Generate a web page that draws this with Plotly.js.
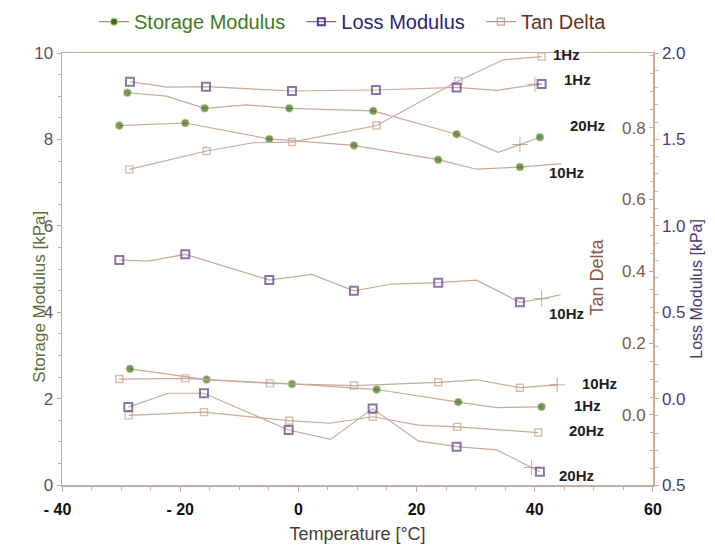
<!DOCTYPE html>
<html>
<head>
<meta charset="utf-8">
<script src="https://cdn.plot.ly/plotly-3.0.1.min.js"></script>
<style>html,body{margin:0;padding:0;background:#fff;}#chart{width:715px;height:556px;}</style>
</head>
<body>
<div id="chart"></div>
<script>
// ---- Data (temperature in °C) ----
// kind: 'o' = measured point, '' = line bend, '+' = cross mark
// Storage modulus [kPa] (left axis)
const storage20Hz_T = [-28.95, -22.3, -15.85, -8.75, -1.54, 12.67, 26.78, 33.82, 37.5, 40.88];
const storage20Hz_V = [9.08, 9.00, 8.72, 8.80, 8.72, 8.66, 8.12, 7.70, 7.88, 8.05];
const storage20Hz_K = ['o', '', 'o', '', 'o', 'o', 'o', '', '+', 'o'];

const storage10Hz_T = [-30.3, -19.14, -4.92, 9.41, 23.67, 30.17, 37.5, 44.55];
const storage10Hz_V = [8.32, 8.38, 8.01, 7.86, 7.53, 7.31, 7.36, 7.44];
const storage10Hz_K = ['o', 'o', 'o', 'o', 'o', '', 'o', ''];

const storage1Hz_T = [-28.5, -15.52, -1.08, 13.25, 27.06, 33.55, 41.17];
const storage1Hz_V = [2.69, 2.44, 2.34, 2.21, 1.92, 1.79, 1.81];
const storage1Hz_K = ['o', 'o', 'o', 'o', 'o', '', 'o'];

// Loss modulus [kPa] (far right axis)
const loss1Hz_T = [-28.5, -22.18, -15.63, -1.08, 13.13, 26.78, 33.55, 40.03, 41.17];
const loss1Hz_V = [1.834, 1.803, 1.805, 1.780, 1.786, 1.801, 1.784, 1.819, 1.821];
const loss1Hz_K = ['o', '', 'o', 'o', 'o', 'o', '', '+', 'o'];

const loss10Hz_T = [-30.3, -25.4, -19.14, -4.92, 2.25, 9.41, 15.79, 23.67, 30.17, 37.5, 41.17, 44.38];
const loss10Hz_V = [0.802, 0.796, 0.835, 0.686, 0.719, 0.624, 0.663, 0.671, 0.685, 0.557, 0.578, 0.601];
const loss10Hz_K = ['o', '', 'o', 'o', '', 'o', '', 'o', '', 'o', '+', ''];

const loss20Hz_T = [-28.78, -22.01, -15.97, -1.64, 5.47, 12.57, 20.29, 26.78, 33.55, 39.47, 40.88];
const loss20Hz_V = [-0.049, 0.031, 0.031, -0.182, -0.236, -0.058, -0.245, -0.278, -0.297, -0.398, -0.423];
const loss20Hz_K = ['o', '', 'o', 'o', '', 'o', '', 'o', '', '+', 'o'];

// Tan delta (inner right axis)
const tan1Hz_T = [-28.61, -15.52, -7.68, -1.08, 13.25, 27.06, 34.67, 41.17];
const tan1Hz_V = [0.684, 0.735, 0.758, 0.760, 0.806, 0.930, 0.989, 0.998];
const tan1Hz_K = ['o', 'o', '', 'o', 'o', 'o', '', 'o'];

const tan10Hz_T = [-30.3, -19.14, -4.81, 9.41, 23.67, 30.17, 37.5, 43.8];
const tan10Hz_V = [0.100, 0.102, 0.088, 0.082, 0.091, 0.098, 0.076, 0.084];
const tan10Hz_K = ['o', 'o', 'o', 'o', 'o', '', 'o', '+'];

const tan20Hz_T = [-28.71, -15.97, -1.54, 5.35, 12.57, 20.29, 26.89, 40.59];
const tan20Hz_V = [-0.001, 0.008, -0.016, -0.023, -0.005, -0.028, -0.033, -0.049];
const tan20Hz_K = ['o', 'o', 'o', '', 'o', '', 'o', 'o'];

// Frequency labels (placed in storage-axis units)
const freqLabels = ['1Hz', '1Hz', '20Hz', '10Hz', '10Hz', '10Hz', '1Hz', '20Hz', '20Hz'];
const freqLabelT = [45.3, 47.2, 49.0, 45.3, 45.3, 51.0, 49.0, 48.8, 47.1];
const freqLabelY = [9.96, 9.38, 8.32, 7.23, 3.98, 2.36, 1.83, 1.27, 0.21];

// Axis ticks
const xTickVals = [-40, -20, 0, 20, 40, 60];
const xTickText = ['- 40&nbsp;&nbsp;', '- 20', '0', '20', '40', '60'];
const tanTickVals = [0, 0.2, 0.4, 0.6, 0.8];
const tanTickText = ['0.0', '0.2', '0.4', '0.6', '0.8'];
const lossTickVals = [-0.5, 0, 0.5, 1.0, 1.5, 2.0];
const lossTickText = ['0.5', '0.0', '0.5', '1.0', '1.5', '2.0'];

// ---- Styles ----
const LINE = '#c9a99a';
const CROSS = '#a88878';
const STY = {
  storage: {sym: 'circle', color: '#3c6b1e', size: 8, lw: 1, lc: 'rgba(190,225,110,0.7)', leg: '#8a9a70', txt: '#3f7a22', name: 'Storage Modulus'},
  loss: {sym: 'square-open', color: '#5a3a8c', size: 8, lw: 2, lc: '#5a3a8c', leg: '#7a6a9a', txt: '#2e2470', name: 'Loss Modulus'},
  tan: {sym: 'square-open', color: '#c9a08c', size: 7, lw: 1.4, lc: '#c9a08c', leg: '#b89888', txt: '#6a3020', name: 'Tan Delta'}
};

function series(T, V, K, type, yax) {
  const s = STY[type];
  return {
    x: T, y: V, yaxis: yax, type: 'scatter', mode: 'lines+markers',
    showlegend: false, hoverinfo: 'x+y',
    line: {color: LINE, width: 1.2},
    marker: {
      symbol: K.map(k => k === '+' ? 'cross-thin-open' : s.sym),
      size: K.map(k => k === 'o' ? s.size : (k === '+' ? 11 : 0)),
      color: K.map(k => k === '+' ? CROSS : s.color),
      line: {width: K.map(k => k === '+' ? 1 : s.lw), color: K.map(k => k === '+' ? CROSS : s.lc)}
    }
  };
}
function legendEntry(type, yax) {
  const s = STY[type];
  return {
    x: [null], y: [null], yaxis: yax, type: 'scatter', mode: 'lines+markers',
    name: '<span style="color:' + s.txt + '">' + s.name + '</span>&nbsp;&nbsp;',
    showlegend: true,
    line: {color: s.leg, width: 1.2},
    marker: {symbol: s.sym, size: 7, color: s.color, line: {width: type === 'loss' ? 2 : 1.2, color: s.lc}}
  };
}

const traces = [
  legendEntry('storage', 'y'), legendEntry('loss', 'y3'), legendEntry('tan', 'y2'),
  series(tan1Hz_T, tan1Hz_V, tan1Hz_K, 'tan', 'y2'),
  series(tan10Hz_T, tan10Hz_V, tan10Hz_K, 'tan', 'y2'),
  series(tan20Hz_T, tan20Hz_V, tan20Hz_K, 'tan', 'y2'),
  series(loss1Hz_T, loss1Hz_V, loss1Hz_K, 'loss', 'y3'),
  series(loss10Hz_T, loss10Hz_V, loss10Hz_K, 'loss', 'y3'),
  series(loss20Hz_T, loss20Hz_V, loss20Hz_K, 'loss', 'y3'),
  series(storage20Hz_T, storage20Hz_V, storage20Hz_K, 'storage', 'y'),
  series(storage10Hz_T, storage10Hz_V, storage10Hz_K, 'storage', 'y'),
  series(storage1Hz_T, storage1Hz_V, storage1Hz_K, 'storage', 'y')
];

const AX = '#c8ac9c';
const FONT = 'Liberation Sans, Arial, sans-serif';

const annotations = freqLabels.map((t, i) => ({
  text: t, x: freqLabelT[i], y: freqLabelY[i], xref: 'x', yref: 'y',
  showarrow: false, font: {family: FONT, size: 15, color: '#1e1e1e', weight: 'bold'}
}));
annotations.push(
  {text: 'Storage Modulus [kPa]', xref: 'paper', yref: 'paper', x: -0.059, y: 0.435, textangle: -90, showarrow: false,
   font: {family: FONT, size: 17, color: '#5a6e38'}},
  {text: 'Tan Delta', xref: 'paper', yref: 'paper', x: 0.926, y: 0.481, textangle: -90, showarrow: false,
   font: {family: FONT, size: 18, color: '#8a5a40'}},
  {text: 'Loss Modulus [kPa]', xref: 'paper', yref: 'paper', x: 1.091, y: 0.455, textangle: -90, showarrow: false,
   font: {family: FONT, size: 16, color: '#4b3b70'}}
);

const layout = {
  width: 715, height: 556,
  margin: {l: 62, r: 62, t: 53, b: 71},
  paper_bgcolor: '#fff', plot_bgcolor: '#fff',
  font: {family: FONT},
  showlegend: true,
  legend: {orientation: 'h', xref: 'container', yref: 'container', x: 0.1315, xanchor: 'left', y: 0.961, yanchor: 'middle',
           font: {family: FONT, size: 20}, bgcolor: 'rgba(0,0,0,0)', itemclick: false},
  xaxis: {
    range: [-40, 60.02], tickvals: xTickVals, ticktext: xTickText,
    showgrid: false, zeroline: false, showline: true, linecolor: AX, linewidth: 1.5, mirror: true,
    ticks: 'outside', ticklen: 5, tickcolor: AX, ticklabelstandoff: 4,
    minor: {dtick: 5, ticks: 'outside', ticklen: 3, tickcolor: AX},
    tickfont: {family: FONT, size: 16, color: '#111', weight: 'bold'},
    title: {text: 'Temperature [°C]', font: {family: FONT, size: 18, color: '#4a3c34'}, standoff: 10}
  },
  yaxis: {
    range: [0, 10], dtick: 2, showgrid: false, zeroline: false,
    showline: true, linecolor: AX, linewidth: 1.5,
    ticks: 'outside', ticklen: 4, tickcolor: AX,
    minor: {dtick: 0.5, ticks: 'outside', ticklen: 3, tickcolor: AX},
    tickfont: {family: FONT, size: 17, color: '#555'}
  },
  yaxis2: {
    overlaying: 'y', side: 'left', anchor: 'free', position: 1, range: [-0.195, 1.008],
    tickvals: tanTickVals, ticktext: tanTickText,
    showgrid: false, zeroline: false, showline: true, linecolor: AX, linewidth: 1.5,
    ticks: 'outside', ticklen: 4, tickcolor: AX,
    minor: {dtick: 0.05, ticks: 'outside', ticklen: 3, tickcolor: AX},
    tickfont: {family: FONT, size: 17, color: '#7c5a48'}
  },
  yaxis3: {
    overlaying: 'y', side: 'right', anchor: 'x', range: [-0.5, 2.0],
    tickvals: lossTickVals, ticktext: lossTickText,
    showgrid: false, zeroline: false, showline: true, linecolor: AX, linewidth: 1.5,
    ticks: 'outside', ticklen: 4, tickcolor: AX,
    minor: {dtick: 0.1, ticks: 'outside', ticklen: 3, tickcolor: AX},
    tickfont: {family: FONT, size: 17, color: '#4b3b7b'}
  },
  annotations: annotations
};

Plotly.newPlot('chart', traces, layout, {displayModeBar: false, staticPlot: true});
</script>
</body>
</html>
